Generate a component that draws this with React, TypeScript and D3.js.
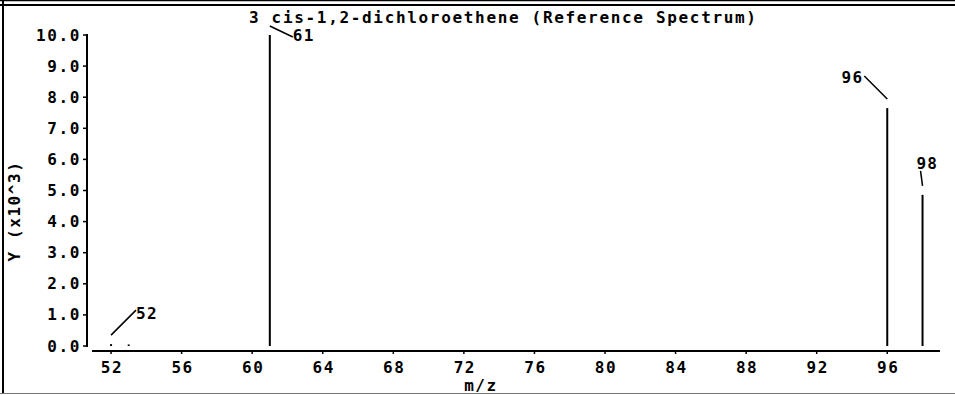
import React from "react";
import * as d3 from "d3";

const title = "3 cis-1,2-dichloroethene (Reference Spectrum)";
const xLabel = "m/z";
const yLabel = "Y (x10^3)";
const mzValues = [52, 53, 61, 96, 98];
const intensities = [0.06, 0.05, 10.0, 7.65, 4.86];
const peakLabels = ["52", "", "61", "96", "98"];
const xTicks = [52, 56, 60, 64, 68, 72, 76, 80, 84, 88, 92, 96];
const yTicks = [0, 1, 2, 3, 4, 5, 6, 7, 8, 9, 10];

// label offsets (layout): line start above peak, line end, text anchor
const labelLayout: Record<string, { lx: number; ly: number; tx: number; ty: number; anchor: string }> = {
  "52": { lx: 25, ly: -25, tx: 25, ty: -16, anchor: "start" },
  "61": { lx: 23, ly: 11, tx: 23, ty: 15, anchor: "start" },
  "96": { lx: -23, ly: -23, tx: -24, ty: -16, anchor: "end" },
  "98": { lx: -2, ly: -15, tx: -6, ty: -17, anchor: "start" },
};

const W = 955;
const H = 395;
const font = "'DejaVu Sans Mono', 'Liberation Mono', monospace";
const FS = 16;
const LS = 1.6;

export default function App() {
  const x = d3.scaleLinear().domain([50.92, 98.99]).range([92, 940]);
  const y = d3.scaleLinear().domain([0, 10]).range([346, 35]);
  const axisY = 351;
  const yAxisX = 87;

  return (
    <svg
      width={W}
      height={H}
      style={{ position: "absolute", left: 0, top: 0, background: "#fff" }}
      fontFamily={font}
    >
      {/* frame */}
      <rect x={0} y={0} width={W} height={H} fill="#fff" />
      <line x1={0} x2={W} y1={0.5} y2={0.5} stroke="#000" strokeWidth={1.5} />
      <line x1={0} x2={W} y1={5} y2={5} stroke="#000" strokeWidth={2.2} />
      <line x1={3} x2={3} y1={0} y2={394} stroke="#000" strokeWidth={2} />
      <line x1={0} x2={W} y1={393.5} y2={393.5} stroke="#777" strokeWidth={1} />

      {/* title */}
      <text x={249} y={23} fontSize={FS} textLength={507} lengthAdjust="spacing" fill="#000" fontWeight="bold">
        {title}
      </text>

      {/* y axis */}
      <line x1={yAxisX} x2={yAxisX} y1={y(10) - 1} y2={y(0) + 1} stroke="#000" strokeWidth={2} />
      {yTicks.map((t) => (
        <g key={t}>
          <line x1={yAxisX - 4} x2={yAxisX} y1={y(t)} y2={y(t)} stroke="#000" strokeWidth={1.5} />
          <text
            x={81}
            y={y(t) + 5.5}
            fontSize={FS}
            textAnchor="end"
            letterSpacing={LS}
            fontWeight="bold"
            fill="#000"
          >
            {d3.format(".1f")(t)}
          </text>
        </g>
      ))}
      <text
        transform={`translate(20, 211) rotate(-90)`}
        fontSize={FS}
        textAnchor="middle"
        letterSpacing={LS}
        fontWeight="bold"
        fill="#000"
      >
        {yLabel}
      </text>

      {/* x axis */}
      <line x1={x.range()[0]} x2={x.range()[1]} y1={axisY} y2={axisY} stroke="#000" strokeWidth={2} />
      {xTicks.map((t) => (
        <g key={t}>
          <line x1={x(t)} x2={x(t)} y1={axisY} y2={axisY + 3} stroke="#000" strokeWidth={1.5} />
          <text
            x={x(t) + 1}
            y={373}
            fontSize={FS}
            textAnchor="middle"
            letterSpacing={LS}
            fontWeight="bold"
            fill="#000"
          >
            {t}
          </text>
        </g>
      ))}
      <text x={481} y={391} fontSize={FS} textAnchor="middle" letterSpacing={LS} fontWeight="bold" fill="#000">
        {xLabel}
      </text>

      {/* peaks */}
      {mzValues.map((m, i) => (
        <line
          key={m}
          x1={x(m)}
          x2={x(m)}
          y1={y(0)}
          y2={y(intensities[i])}
          stroke="#000"
          strokeWidth={2}
        />
      ))}

      {/* peak labels */}
      {mzValues.map((m, i) => {
        const lab = peakLabels[i];
        if (!lab) return null;
        const L = labelLayout[lab];
        const px = x(m);
        const py = y(intensities[i]) - 9;
        return (
          <g key={"l" + m}>
            <line x1={px} y1={py} x2={px + L.lx} y2={py + L.ly} stroke="#000" strokeWidth={1.5} />
            <text
              x={px + L.tx}
              y={py + L.ty}
              fontSize={FS}
              textAnchor={L.anchor}
              letterSpacing={1.2}
              fontWeight="bold"
              fill="#000"
            >
              {lab}
            </text>
          </g>
        );
      })}
    </svg>
  );
}
